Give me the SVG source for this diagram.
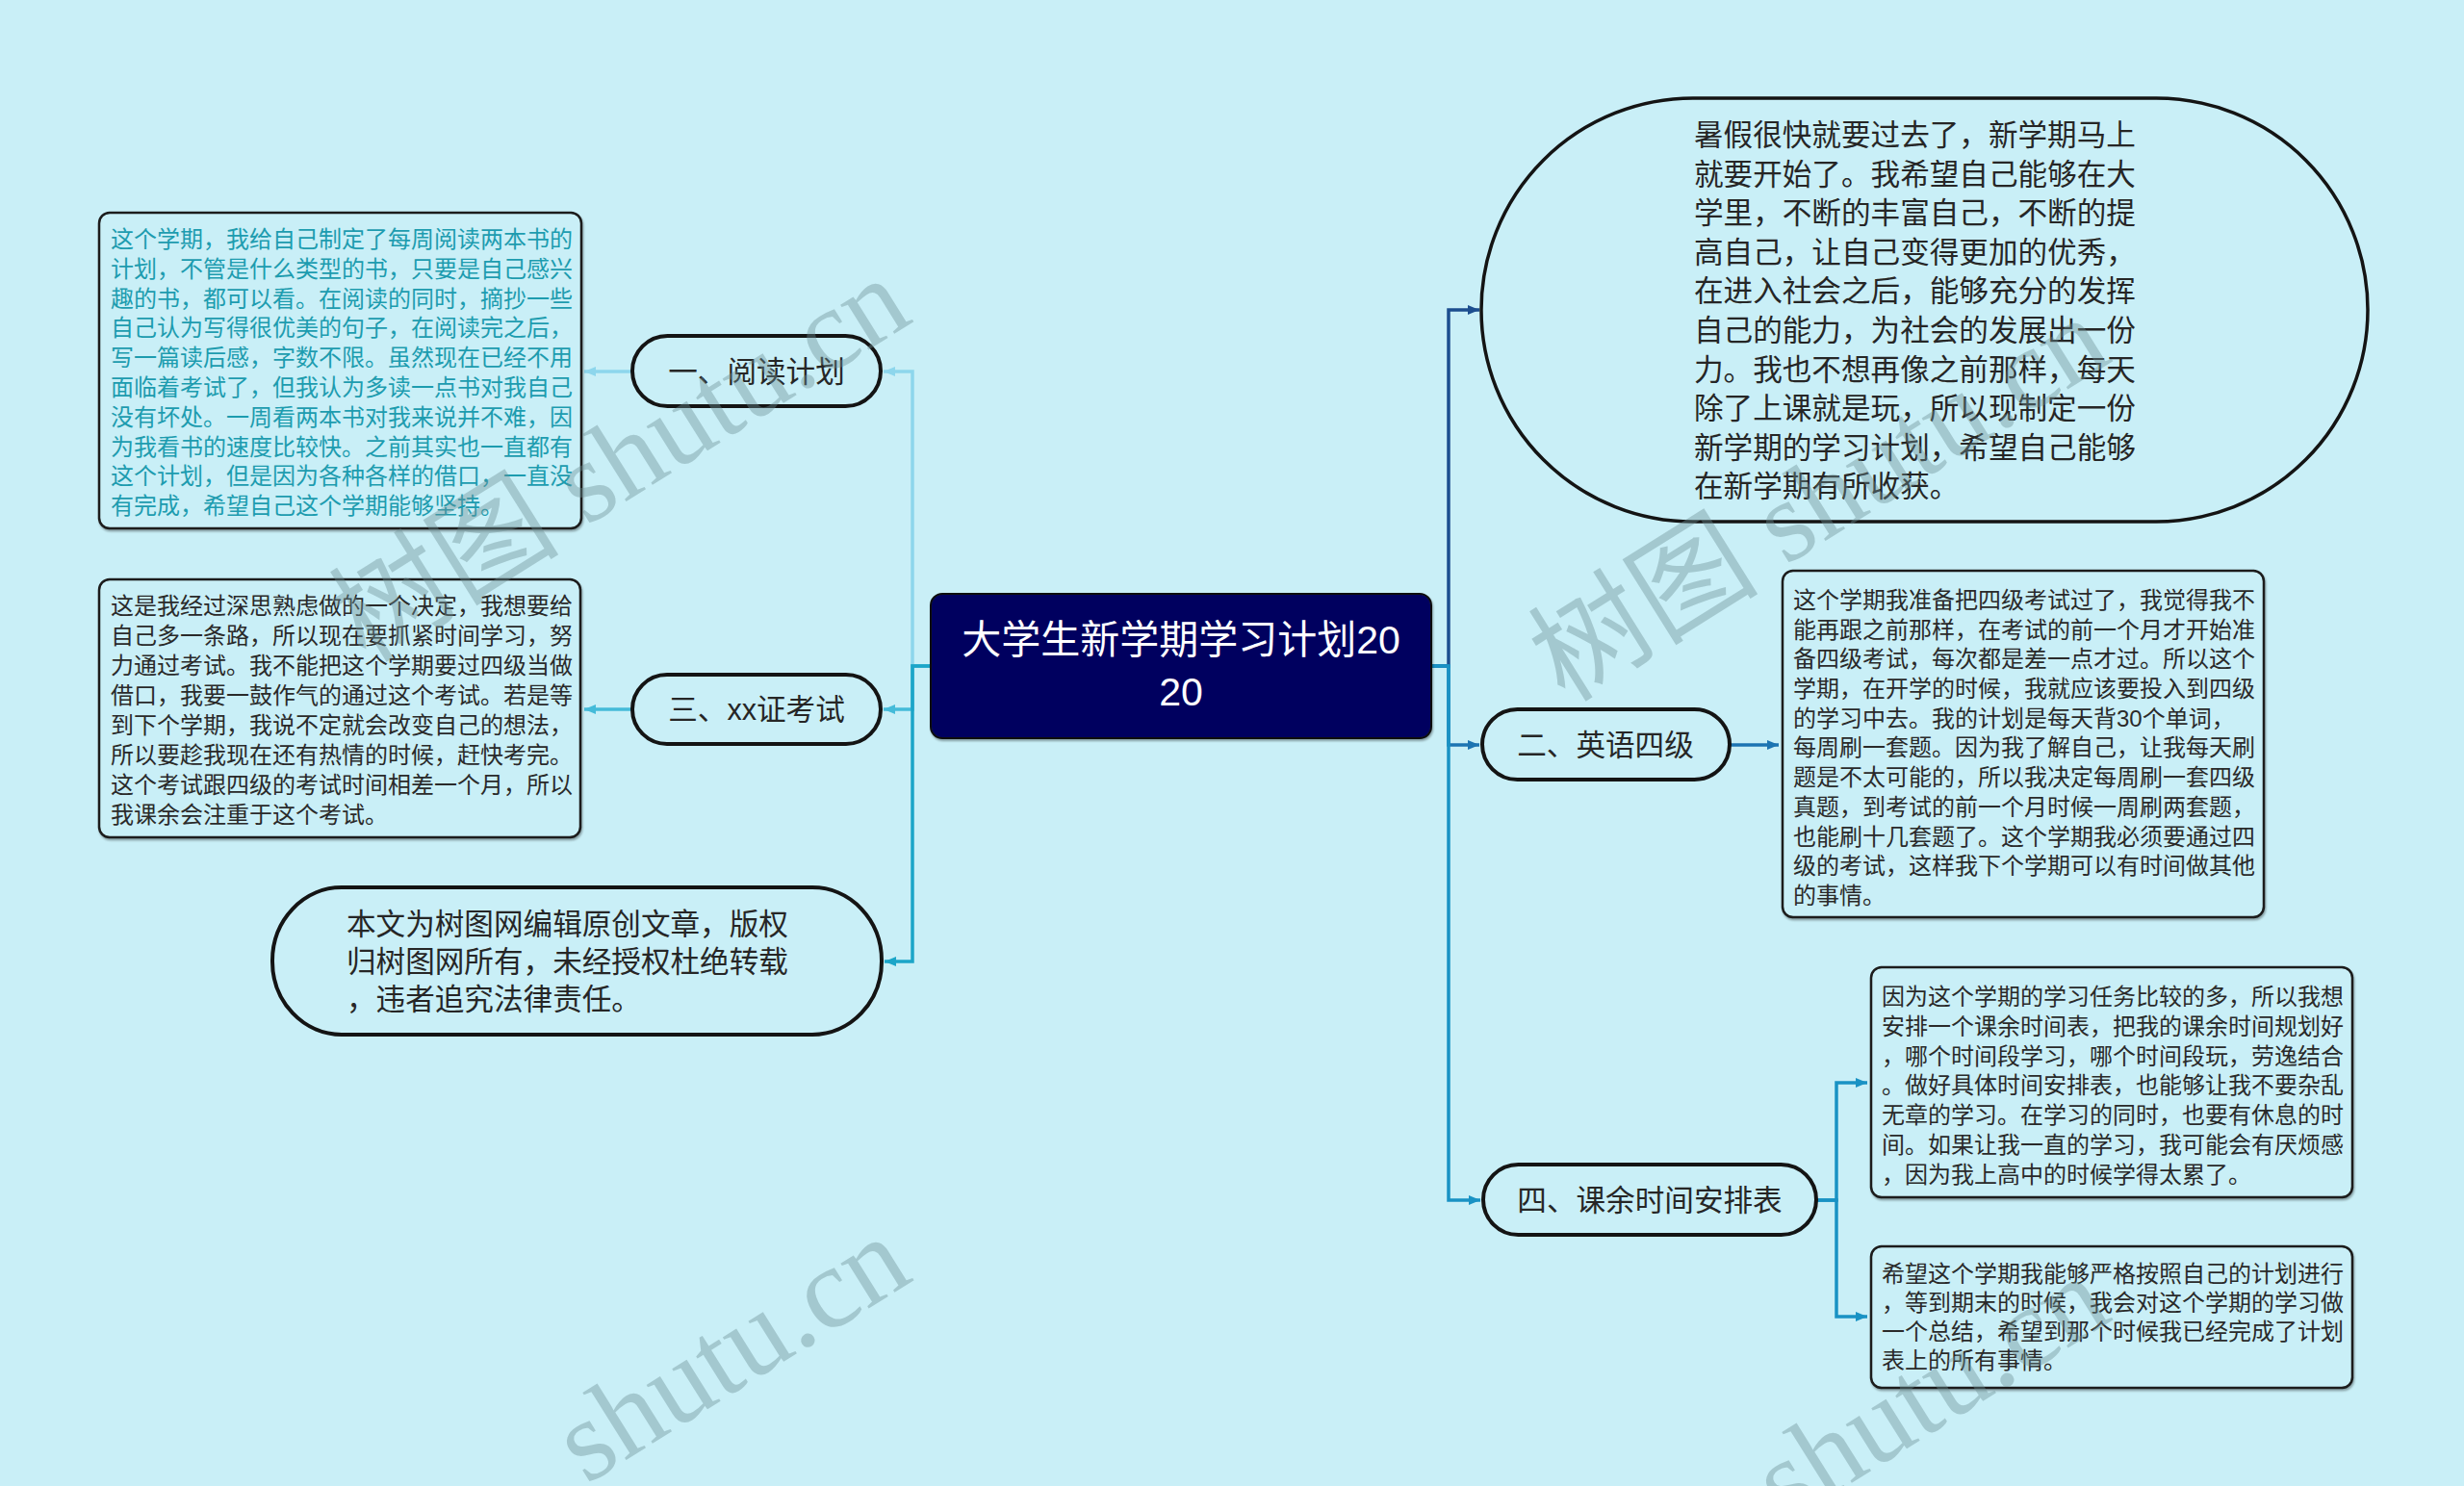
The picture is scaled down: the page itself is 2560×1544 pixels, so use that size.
<svg xmlns="http://www.w3.org/2000/svg" width="2560" height="1544" viewBox="0 0 2560 1544">
<style>
.pill{fill:#c9eff7;stroke:#141414;stroke-width:4}
.box{fill:#c9eff7;stroke:#1a1a1a;stroke-width:2.5}
.big{fill:#c9eff7;stroke:#141414;stroke-width:3.5}
.t30{font-family:'Liberation Sans','Noto Sans CJK SC',sans-serif;font-size:30.6px;fill:#262626}
.t24{font-family:'Liberation Sans','Noto Sans CJK SC',sans-serif;font-size:24px;fill:#2a2a2a}
.teal{fill:#1d9caf}
.title{font-family:'Liberation Sans','Noto Sans CJK SC',sans-serif;font-size:41px;fill:#ffffff}
.ln{fill:none;stroke-width:3.5}
.wm{font-family:'Liberation Serif','Noto Sans CJK SC',serif;font-size:120px;fill:#6b8e94;fill-opacity:0.4}
</style>
<defs>
<filter id="sh" x="-5%" y="-5%" width="110%" height="115%"><feDropShadow dx="1" dy="2" stdDeviation="1" flood-color="#000" flood-opacity="0.35"/></filter>
<marker id="a1" viewBox="0 0 12 10" refX="12" refY="5" markerWidth="12" markerHeight="10" markerUnits="userSpaceOnUse" orient="auto"><path d="M0,0 L12,5 L0,10 z" fill="#8dd6ec"/></marker>
<marker id="a3" viewBox="0 0 12 10" refX="12" refY="5" markerWidth="12" markerHeight="10" markerUnits="userSpaceOnUse" orient="auto"><path d="M0,0 L12,5 L0,10 z" fill="#44bbd9"/></marker>
<marker id="ac" viewBox="0 0 12 10" refX="12" refY="5" markerWidth="12" markerHeight="10" markerUnits="userSpaceOnUse" orient="auto"><path d="M0,0 L12,5 L0,10 z" fill="#1ba5c8"/></marker>
<marker id="r1" viewBox="0 0 12 10" refX="12" refY="5" markerWidth="12" markerHeight="10" markerUnits="userSpaceOnUse" orient="auto"><path d="M0,0 L12,5 L0,10 z" fill="#1c4e8f"/></marker>
<marker id="r2" viewBox="0 0 12 10" refX="12" refY="5" markerWidth="12" markerHeight="10" markerUnits="userSpaceOnUse" orient="auto"><path d="M0,0 L12,5 L0,10 z" fill="#1d74b2"/></marker>
<marker id="r4" viewBox="0 0 12 10" refX="12" refY="5" markerWidth="12" markerHeight="10" markerUnits="userSpaceOnUse" orient="auto"><path d="M0,0 L12,5 L0,10 z" fill="#1992c4"/></marker>
</defs>
<rect x="0" y="0" width="2560" height="1544" fill="#c9eff7"/>

<g id="connectors">
<path class="ln" stroke="#8dd6ec" d="M967,692 H948 V386 H918" marker-end="url(#a1)"/>
<path class="ln" stroke="#44bbd9" d="M967,692 H948 V737 H918" marker-end="url(#a3)"/>
<path class="ln" stroke="#1ba5c8" d="M967,692 H948 V999 H919" marker-end="url(#ac)"/>
<path class="ln" stroke="#8dd6ec" d="M657,386 H607" marker-end="url(#a1)"/>
<path class="ln" stroke="#44bbd9" d="M657,737 H607" marker-end="url(#a3)"/>
<path class="ln" stroke="#1c4e8f" d="M1487,692 H1505 V322 H1537" marker-end="url(#r1)"/>
<path class="ln" stroke="#1d74b2" d="M1487,692 H1505 V774 H1537" marker-end="url(#r2)"/>
<path class="ln" stroke="#1992c4" d="M1487,692 H1505 V1247 H1538" marker-end="url(#r4)"/>
<path class="ln" stroke="#1d74b2" d="M1797,774 H1848" marker-end="url(#r2)"/>
<path class="ln" stroke="#1992c4" d="M1887,1247 H1908 V1125 H1940" marker-end="url(#r4)"/>
<path class="ln" stroke="#1992c4" d="M1887,1247 H1908 V1368 H1940" marker-end="url(#r4)"/>
</g>

<g id="center">
<rect x="967" y="617" width="520" height="150" rx="12" fill="#04065e" stroke="#111" stroke-width="2" filter="url(#sh)"/>
<text class="title" x="1227" y="679" text-anchor="middle">大学生新学期学习计划20</text>
<text class="title" x="1227" y="733" text-anchor="middle">20</text>
</g>

<g id="n-reading">
<rect class="pill" x="657" y="349" width="258" height="73" rx="36.5"/>
<text class="t30" x="786" y="397" text-anchor="middle">一、阅读计划</text>
</g>
<g id="n-reading-text">
<rect class="box" x="103" y="221" width="501" height="328" rx="11" filter="url(#sh)"/>
<text class="t24 teal" x="115">
<tspan x="115" y="257">这个学期，我给自己制定了每周阅读两本书的</tspan>
<tspan x="115" y="288">计划，不管是什么类型的书，只要是自己感兴</tspan>
<tspan x="115" y="319">趣的书，都可以看。在阅读的同时，摘抄一些</tspan>
<tspan x="115" y="349">自己认为写得很优美的句子，在阅读完之后，</tspan>
<tspan x="115" y="380">写一篇读后感，字数不限。虽然现在已经不用</tspan>
<tspan x="115" y="411">面临着考试了，但我认为多读一点书对我自己</tspan>
<tspan x="115" y="442">没有坏处。一周看两本书对我来说并不难，因</tspan>
<tspan x="115" y="473">为我看书的速度比较快。之前其实也一直都有</tspan>
<tspan x="115" y="503">这个计划，但是因为各种各样的借口，一直没</tspan>
<tspan x="115" y="534">有完成，希望自己这个学期能够坚持。</tspan>
</text>
</g>

<g id="n-exam">
<rect class="pill" x="657" y="701" width="258" height="72" rx="36"/>
<text class="t30" x="786" y="748" text-anchor="middle">三、xx证考试</text>
</g>
<g id="n-exam-text">
<rect class="box" x="103" y="602" width="500" height="268" rx="11" filter="url(#sh)"/>
<text class="t24" x="115">
<tspan x="115" y="638">这是我经过深思熟虑做的一个决定，我想要给</tspan>
<tspan x="115" y="669">自己多一条路，所以现在要抓紧时间学习，努</tspan>
<tspan x="115" y="700">力通过考试。我不能把这个学期要过四级当做</tspan>
<tspan x="115" y="731">借口，我要一鼓作气的通过这个考试。若是等</tspan>
<tspan x="115" y="762">到下个学期，我说不定就会改变自己的想法，</tspan>
<tspan x="115" y="793">所以要趁我现在还有热情的时候，赶快考完。</tspan>
<tspan x="115" y="824">这个考试跟四级的考试时间相差一个月，所以</tspan>
<tspan x="115" y="855">我课余会注重于这个考试。</tspan>
</text>
</g>

<g id="n-copyright">
<rect class="pill" x="283" y="922" width="633" height="153" rx="72" ry="76"/>
<text class="t30" x="360">
<tspan x="360" y="971">本文为树图网编辑原创文章，版权</tspan>
<tspan x="360" y="1010">归树图网所有，未经授权杜绝转载</tspan>
<tspan x="360" y="1049">，违者追究法律责任。</tspan>
</text>
</g>

<g id="n-intro">
<rect class="big" x="1539" y="102" width="921" height="440" rx="220" ry="220"/>
<text class="t30" x="1760">
<tspan x="1760" y="151">暑假很快就要过去了，新学期马上</tspan>
<tspan x="1760" y="192">就要开始了。我希望自己能够在大</tspan>
<tspan x="1760" y="232">学里，不断的丰富自己，不断的提</tspan>
<tspan x="1760" y="273">高自己，让自己变得更加的优秀，</tspan>
<tspan x="1760" y="313">在进入社会之后，能够充分的发挥</tspan>
<tspan x="1760" y="354">自己的能力，为社会的发展出一份</tspan>
<tspan x="1760" y="395">力。我也不想再像之前那样，每天</tspan>
<tspan x="1760" y="435">除了上课就是玩，所以现制定一份</tspan>
<tspan x="1760" y="476">新学期的学习计划，希望自己能够</tspan>
<tspan x="1760" y="516">在新学期有所收获。</tspan>
</text>
</g>

<g id="n-english">
<rect class="pill" x="1540" y="737" width="257" height="73" rx="36.5"/>
<text class="t30" x="1668" y="785" text-anchor="middle">二、英语四级</text>
</g>
<g id="n-english-text">
<rect class="box" x="1852" y="593" width="500" height="360" rx="11" filter="url(#sh)"/>
<text class="t24" x="1863">
<tspan x="1863" y="632">这个学期我准备把四级考试过了，我觉得我不</tspan>
<tspan x="1863" y="663">能再跟之前那样，在考试的前一个月才开始准</tspan>
<tspan x="1863" y="693">备四级考试，每次都是差一点才过。所以这个</tspan>
<tspan x="1863" y="724">学期，在开学的时候，我就应该要投入到四级</tspan>
<tspan x="1863" y="755">的学习中去。我的计划是每天背30个单词，</tspan>
<tspan x="1863" y="785">每周刷一套题。因为我了解自己，让我每天刷</tspan>
<tspan x="1863" y="816">题是不太可能的，所以我决定每周刷一套四级</tspan>
<tspan x="1863" y="847">真题，到考试的前一个月时候一周刷两套题，</tspan>
<tspan x="1863" y="878">也能刷十几套题了。这个学期我必须要通过四</tspan>
<tspan x="1863" y="908">级的考试，这样我下个学期可以有时间做其他</tspan>
<tspan x="1863" y="939">的事情。</tspan>
</text>
</g>

<g id="n-schedule">
<rect class="pill" x="1541" y="1210" width="346" height="73" rx="36.5"/>
<text class="t30" x="1714" y="1258" text-anchor="middle">四、课余时间安排表</text>
</g>
<g id="n-schedule-text1">
<rect class="box" x="1944" y="1005" width="500" height="239" rx="11" filter="url(#sh)"/>
<text class="t24" x="1955">
<tspan x="1955" y="1044">因为这个学期的学习任务比较的多，所以我想</tspan>
<tspan x="1955" y="1075">安排一个课余时间表，把我的课余时间规划好</tspan>
<tspan x="1955" y="1106">，哪个时间段学习，哪个时间段玩，劳逸结合</tspan>
<tspan x="1955" y="1136">。做好具体时间安排表，也能够让我不要杂乱</tspan>
<tspan x="1955" y="1167">无章的学习。在学习的同时，也要有休息的时</tspan>
<tspan x="1955" y="1198">间。如果让我一直的学习，我可能会有厌烦感</tspan>
<tspan x="1955" y="1229">，因为我上高中的时候学得太累了。</tspan>
</text>
</g>
<g id="n-schedule-text2">
<rect class="box" x="1944" y="1295" width="500" height="147" rx="11" filter="url(#sh)"/>
<text class="t24" x="1955">
<tspan x="1955" y="1332">希望这个学期我能够严格按照自己的计划进行</tspan>
<tspan x="1955" y="1362">，等到期末的时候，我会对这个学期的学习做</tspan>
<tspan x="1955" y="1392">一个总结，希望到那个时候我已经完成了计划</tspan>
<tspan x="1955" y="1422">表上的所有事情。</tspan>
</text>
</g>

<g id="watermark">
<text class="wm" transform="translate(380,690) rotate(-32)">树图 shutu.cn</text>
<text class="wm" transform="translate(1626,731) rotate(-32)">树图 shutu.cn</text>
<text class="wm" transform="translate(609,1543) rotate(-32)">shutu.cn</text>
<text class="wm" transform="translate(1855,1584) rotate(-32)">shutu.cn</text>
</g>
</svg>
